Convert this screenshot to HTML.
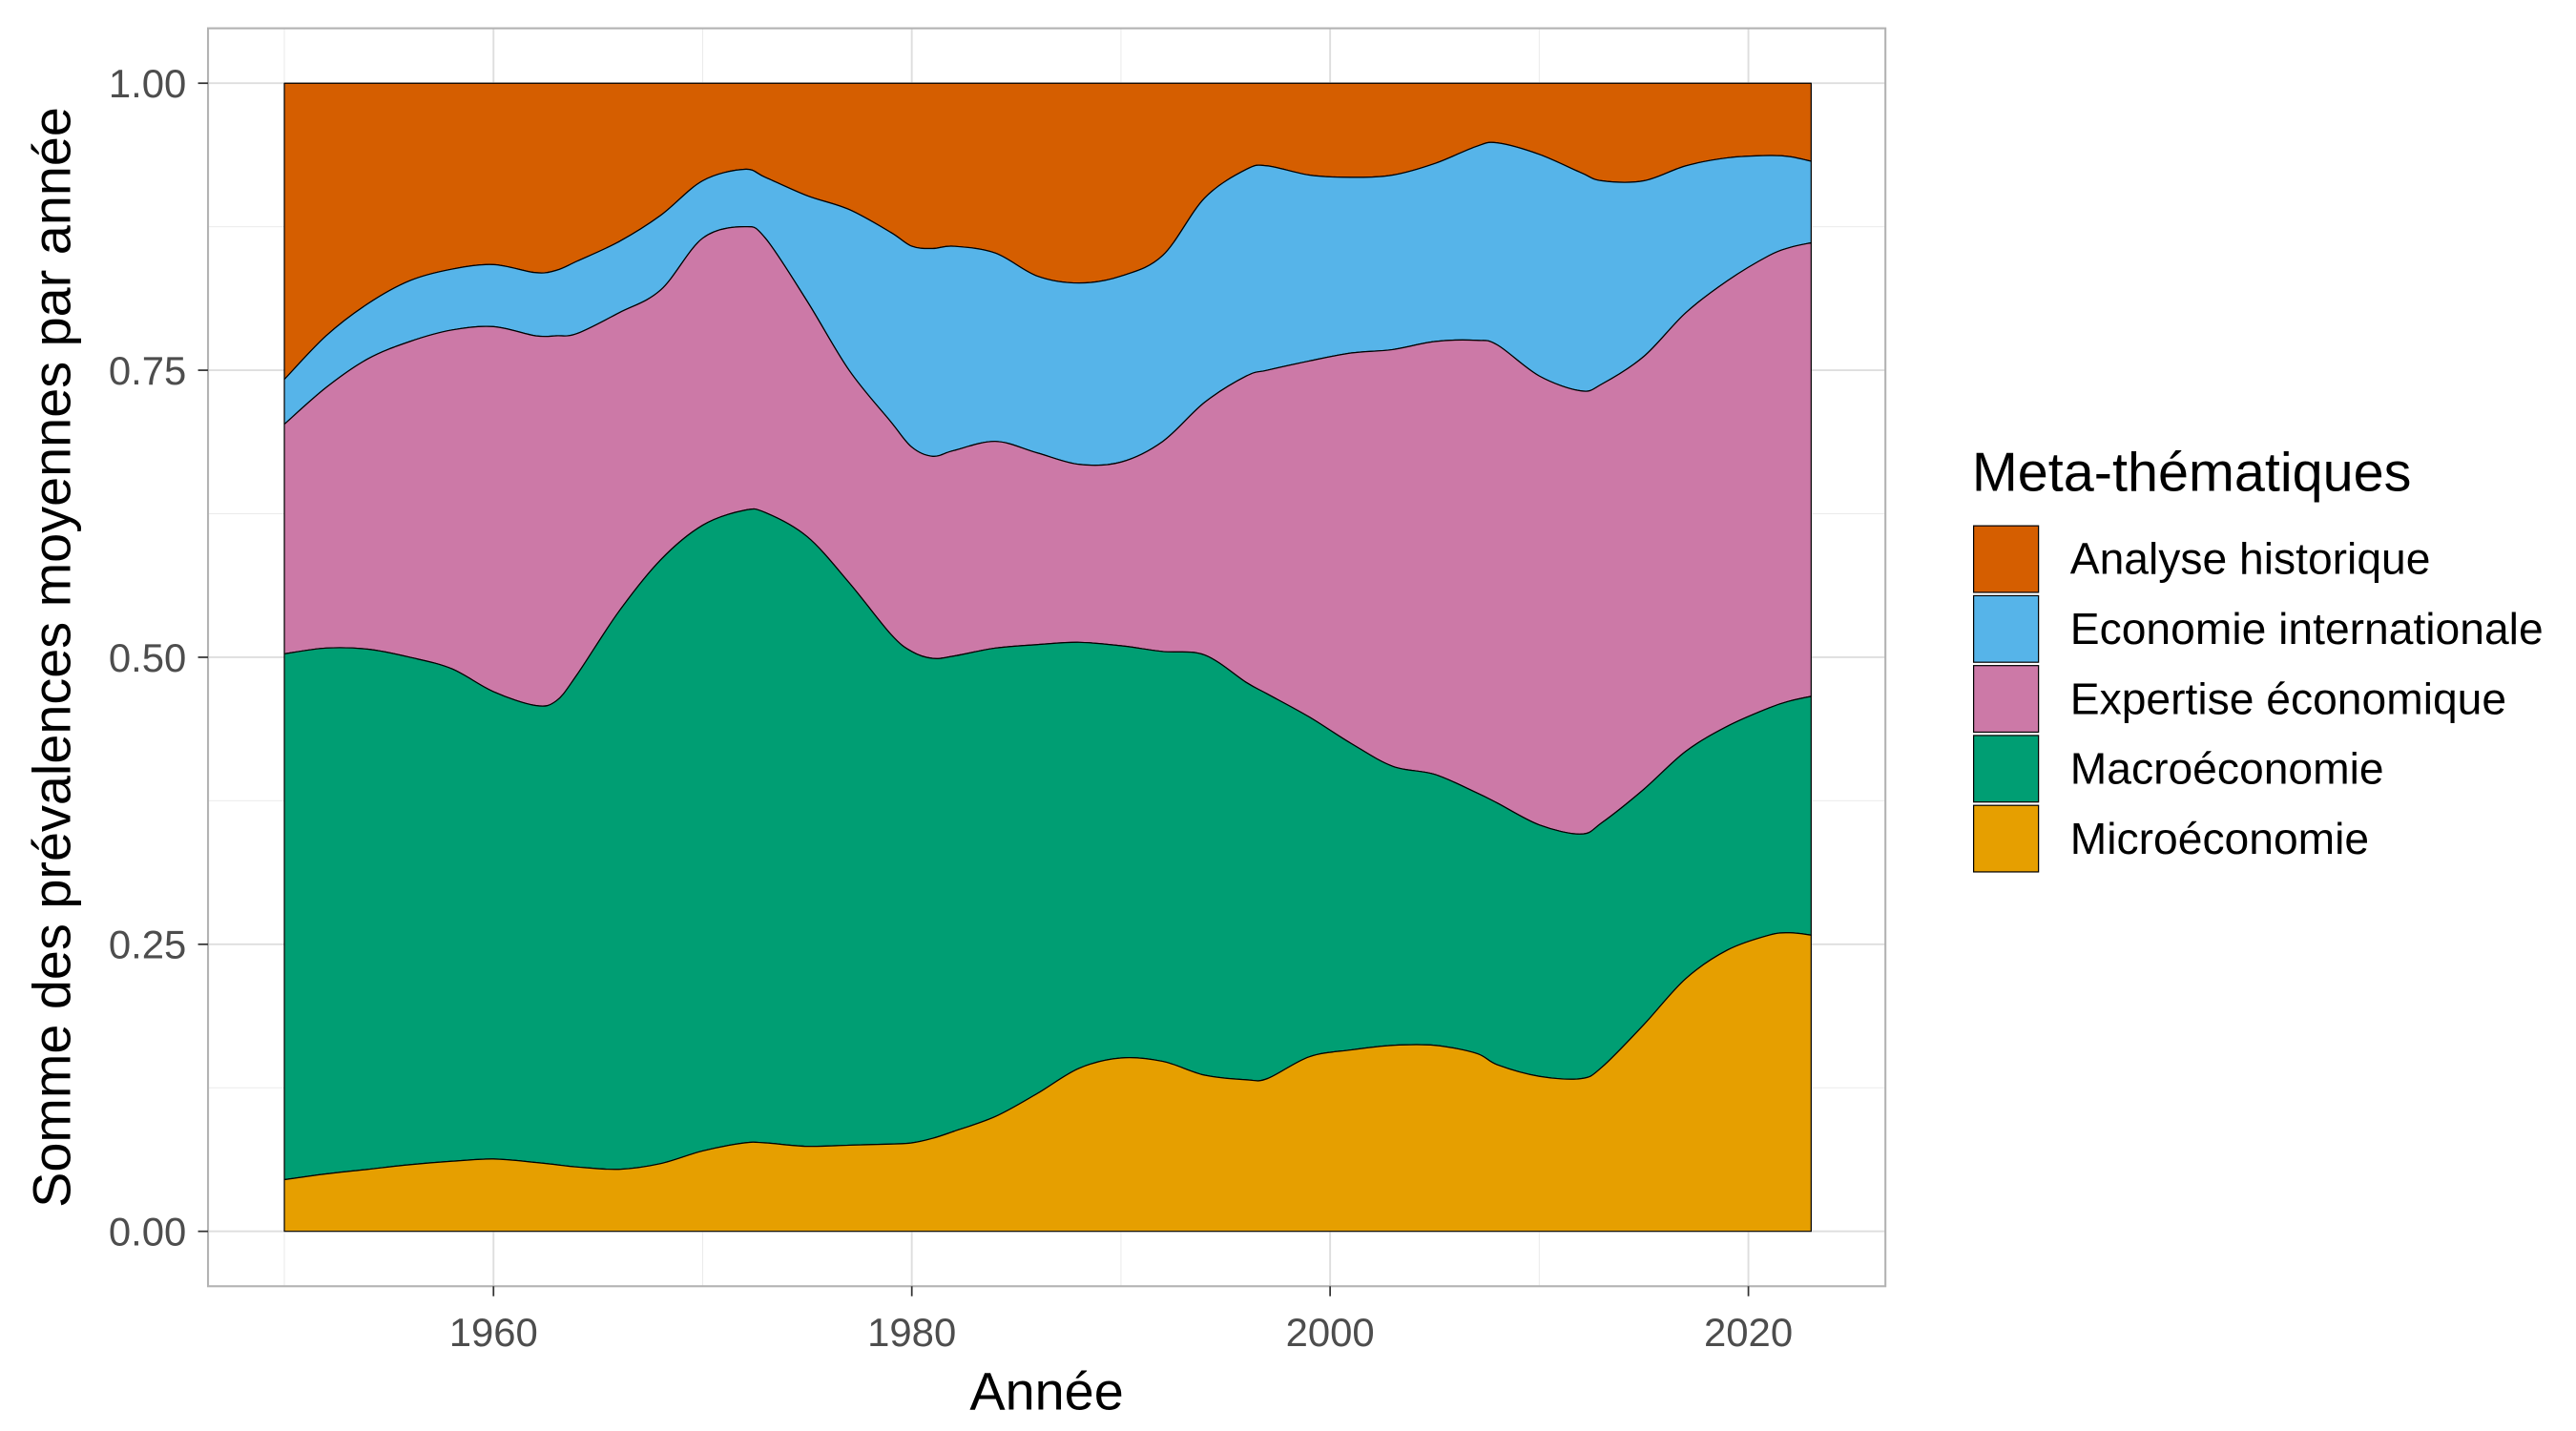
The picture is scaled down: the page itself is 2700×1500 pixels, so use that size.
<!DOCTYPE html>
<html><head><meta charset="utf-8"><style>html,body{margin:0;padding:0;background:#fff}svg{display:block}</style></head>
<body>
<svg id="chart" width="2700" height="1500" viewBox="0 0 1548 860" xmlns="http://www.w3.org/2000/svg" font-family="'Liberation Sans', sans-serif">
<rect x="0" y="0" width="1548" height="860" fill="#fff"/>
<g id="grid"></g>
<g id="areas"></g>
<rect x="125" y="17" width="1008" height="756" fill="none" stroke="#b3b3b3" stroke-width="1.2"/>
<g id="axes"></g>
<text x="629" y="847" font-size="32" text-anchor="middle" fill="#000">Année</text>
<text transform="translate(42,395) rotate(-90)" font-size="32" text-anchor="middle" fill="#000">Somme des prévalences moyennes par année</text>
<g id="legend"></g>
</svg>
<script>
const years=[1950,1952,1954,1956,1958,1960,1962,1963,1964,1966,1968,1970,1972,1973,1975,1977,1979,1980,1981,1982,1984,1986,1988,1990,1992,1994,1996,1997,1999,2001,2003,2005,2007,2008,2010,2012,2013,2015,2017,2019,2021,2022,2023];
// cumulative upper bounds of each stacked layer
const cumMicro=[0.045,0.050,0.054,0.058,0.061,0.063,0.060,0.058,0.056,0.054,0.059,0.070,0.077,0.077,0.074,0.075,0.076,0.077,0.081,0.087,0.100,0.120,0.142,0.151,0.148,0.136,0.132,0.133,0.152,0.158,0.162,0.162,0.155,0.145,0.135,0.133,0.143,0.180,0.220,0.245,0.258,0.260,0.258];
const cumMacro=[0.503,0.508,0.507,0.500,0.490,0.470,0.458,0.462,0.485,0.540,0.585,0.615,0.628,0.626,0.605,0.565,0.520,0.505,0.499,0.501,0.508,0.511,0.513,0.510,0.505,0.502,0.478,0.468,0.448,0.425,0.405,0.398,0.382,0.373,0.354,0.346,0.356,0.385,0.418,0.440,0.456,0.462,0.466];
const cumExpertise=[0.703,0.735,0.760,0.775,0.785,0.788,0.780,0.780,0.782,0.800,0.820,0.865,0.875,0.865,0.810,0.750,0.705,0.683,0.675,0.680,0.688,0.678,0.668,0.670,0.688,0.722,0.745,0.750,0.758,0.765,0.768,0.775,0.776,0.772,0.745,0.732,0.738,0.762,0.800,0.828,0.850,0.857,0.861];
const cumIntl=[0.742,0.780,0.808,0.828,0.838,0.842,0.835,0.837,0.845,0.862,0.885,0.915,0.925,0.918,0.902,0.890,0.870,0.858,0.856,0.858,0.852,0.832,0.826,0.832,0.850,0.900,0.925,0.928,0.920,0.918,0.920,0.930,0.945,0.948,0.938,0.922,0.915,0.915,0.928,0.935,0.937,0.936,0.932];
const cumHist=years.map(()=>1);
const yTicks=[0,0.25,0.5,0.75,1];
const yTickLabels=["0.00","0.25","0.50","0.75","1.00"];
const xTicks=[1960,1980,2000,2020];
const seriesNames=["Analyse historique","Economie internationale","Expertise économique","Macroéconomie","Microéconomie"];
const seriesColors=["#D55E00","#56B4E9","#CC79A7","#009E73","#E69F00"];

const NS="http://www.w3.org/2000/svg";
const X0=125,X1=1133,Y0=773,Y1=17;
const xDom=[1946.35,2026.55];
const x=v=>X0+(v-xDom[0])/(xDom[1]-xDom[0])*(X1-X0);
const y=v=>740-v*690;
function mk(tag,attrs,parent){const e=document.createElementNS(NS,tag);for(const k in attrs)e.setAttribute(k,attrs[k]);parent.appendChild(e);return e;}
const grid=document.getElementById('grid');
[0.125,0.375,0.625,0.875].forEach(v=>{const l=mk('line',{x1:X0,x2:X1,y1:y(v),y2:y(v),stroke:'#ebebeb','stroke-width':0.6},grid);});
[1950,1970,1990,2010].forEach(v=>{const l=mk('line',{x1:x(v),x2:x(v),y1:Y1,y2:Y0,stroke:'#ebebeb','stroke-width':0.6},grid);});
yTicks.forEach(v=>{const l=mk('line',{x1:X0,x2:X1,y1:y(v),y2:y(v),stroke:'#dedede','stroke-width':1.1},grid);});
xTicks.forEach(v=>{const l=mk('line',{x1:x(v),x2:x(v),y1:Y1,y2:Y0,stroke:'#dedede','stroke-width':1.1},grid);});

function smooth(pts){
  let d='';
  for(let i=0;i<pts.length;i++){
    const p=pts[i];
    if(i===0){d+='M'+p[0]+','+p[1];continue;}
    const p0=pts[Math.max(0,i-2)],p1=pts[i-1],p2=p,p3=pts[Math.min(pts.length-1,i+1)];
    const t=6;
    const c1=[p1[0]+(p2[0]-p0[0])/t,p1[1]+(p2[1]-p0[1])/t];
    const c2=[p2[0]-(p3[0]-p1[0])/t,p2[1]-(p3[1]-p1[1])/t];
    d+=' C'+c1[0]+','+c1[1]+' '+c2[0]+','+c2[1]+' '+p2[0]+','+p2[1];
  }
  return d;
}
const areas=document.getElementById('areas');
const layers=[cumHist,cumIntl,cumExpertise,cumMacro,cumMicro];
const lowers=[cumIntl,cumExpertise,cumMacro,cumMicro,years.map(()=>0)];
const areaNames=['area-analyse-historique','area-economie-internationale','area-expertise-economique','area-macroeconomie','area-microeconomie'];
layers.forEach((up,i)=>{
  const top=years.map((yr,j)=>[x(yr),y(up[j])]);
  const bot=years.map((yr,j)=>[x(yr),y(lowers[i][j])]).reverse();
  let d=smooth(top);
  d+=' L'+bot[0][0]+','+bot[0][1];
  d+=smooth(bot).replace(/^M[^ ]+/,'');
  d+=' Z';
  const p=mk('path',{d:d,fill:seriesColors[i],stroke:'#000','stroke-width':0.7,'stroke-linejoin':'round'},areas);
  
  
});
const axes=document.getElementById('axes');
yTicks.forEach((v,i)=>{
  const l=mk('line',{x1:X0-6,x2:X0,y1:y(v),y2:y(v),stroke:'#333','stroke-width':1},axes);
  
  const t=mk('text',{x:X0-13,y:y(v)+8.5,'font-size':24,'text-anchor':'end',fill:'#4d4d4d'},axes);
  t.textContent=yTickLabels[i];
  
});
xTicks.forEach(v=>{
  const l=mk('line',{x1:x(v),x2:x(v),y1:Y0,y2:Y0+6,stroke:'#333','stroke-width':1},axes);
  
  const t=mk('text',{x:x(v),y:Y0+36,'font-size':24,'text-anchor':'middle',fill:'#4d4d4d'},axes);
  t.textContent=String(v);
  
});
const lg=document.getElementById('legend');
const lt=mk('text',{x:1185,y:295,'font-size':33,fill:'#000'},lg);
lt.textContent='Meta-thématiques';

seriesNames.forEach((n,i)=>{
  const yy=316+i*42;
  const r=mk('rect',{x:1186,y:yy,width:39,height:40,fill:seriesColors[i],stroke:'#000','stroke-width':0.7},lg);
  
  const t=mk('text',{x:1244,y:yy+29,'font-size':26.5,fill:'#000'},lg);
  t.textContent=n;
  
});
</script>
</body></html>
